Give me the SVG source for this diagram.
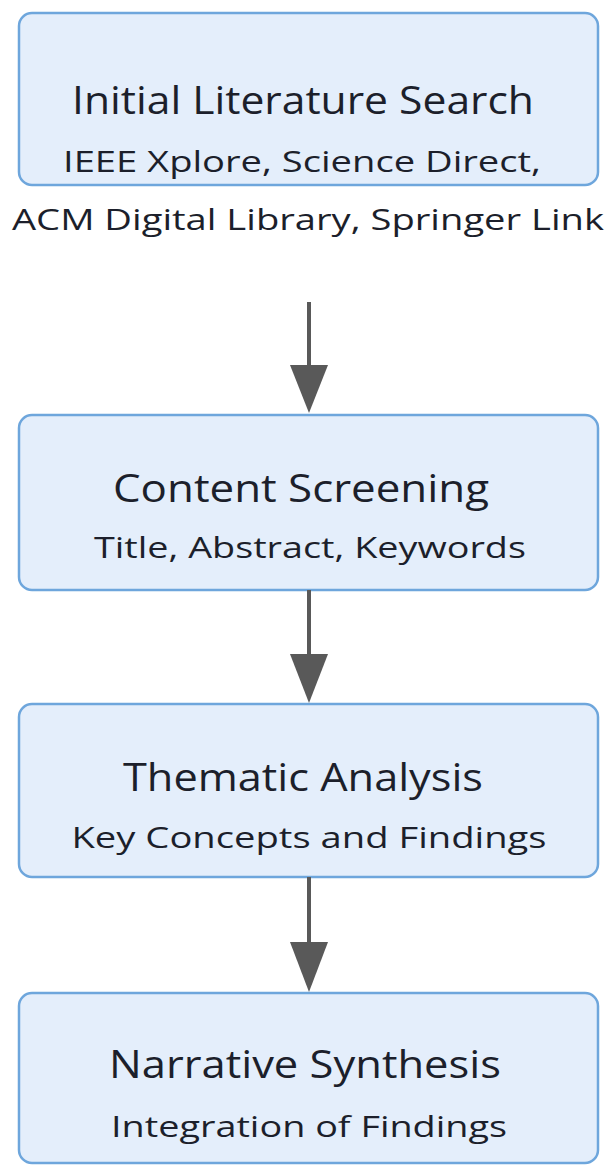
<svg xmlns="http://www.w3.org/2000/svg" width="613" height="1166" viewBox="0 0 613 1166">
  <style>
    .box { fill: #e4eefb; stroke: #6ea6dc; stroke-width: 2.5; }
    .title { font-family: "Open Sans", "Noto Sans", "Liberation Sans", sans-serif; font-size: 38px; fill: #1c1f2b; text-anchor: middle; }
    .sub { font-family: "Open Sans", "Noto Sans", "Liberation Sans", sans-serif; font-size: 30px; fill: #1c1f2b; text-anchor: middle; }
    .edge { stroke: #595959; stroke-width: 4; fill: none; }
    .head { fill: #595959; }
  </style>
  <rect width="613" height="1166" fill="#ffffff"/>

  <!-- step 1 -->
  <g id="node-search">
    <rect class="box" x="19" y="13" width="579" height="172" rx="13"/>
    <text class="title" x="303" y="114" textLength="462" lengthAdjust="spacingAndGlyphs">Initial Literature Search</text>
    <text class="sub" x="302" y="172" textLength="478" lengthAdjust="spacingAndGlyphs">IEEE Xplore, Science Direct,</text>
    <text class="sub" x="308" y="230" textLength="592" lengthAdjust="spacingAndGlyphs">ACM Digital Library, Springer Link</text>
  </g>

  <!-- step 2 -->
  <g id="node-screening">
    <rect class="box" x="19" y="415" width="579" height="175" rx="13"/>
    <text class="title" x="301" y="502" textLength="376" lengthAdjust="spacingAndGlyphs">Content Screening</text>
    <text class="sub" x="310" y="558" textLength="432" lengthAdjust="spacingAndGlyphs">Title, Abstract, Keywords</text>
  </g>

  <!-- step 3 -->
  <g id="node-thematic">
    <rect class="box" x="19" y="704" width="579" height="173" rx="13"/>
    <text class="title" x="303" y="791" textLength="360" lengthAdjust="spacingAndGlyphs">Thematic Analysis</text>
    <text class="sub" x="309" y="848" textLength="475" lengthAdjust="spacingAndGlyphs">Key Concepts and Findings</text>
  </g>

  <!-- step 4 -->
  <g id="node-synthesis">
    <rect class="box" x="19" y="993" width="579" height="170" rx="13"/>
    <text class="title" x="305" y="1078" textLength="392" lengthAdjust="spacingAndGlyphs">Narrative Synthesis</text>
    <text class="sub" x="309" y="1137" textLength="396" lengthAdjust="spacingAndGlyphs">Integration of Findings</text>
  </g>

  <!-- connectors -->
  <g id="edges">
    <line class="edge" x1="309" y1="302" x2="309" y2="368"/>
    <polygon class="head" points="290,365 328,365 309,413"/>
    <line class="edge" x1="309" y1="590" x2="309" y2="657"/>
    <polygon class="head" points="290,654 328,654 309,703"/>
    <line class="edge" x1="309" y1="877" x2="309" y2="945"/>
    <polygon class="head" points="290,942 328,942 309,992"/>
  </g>
</svg>
